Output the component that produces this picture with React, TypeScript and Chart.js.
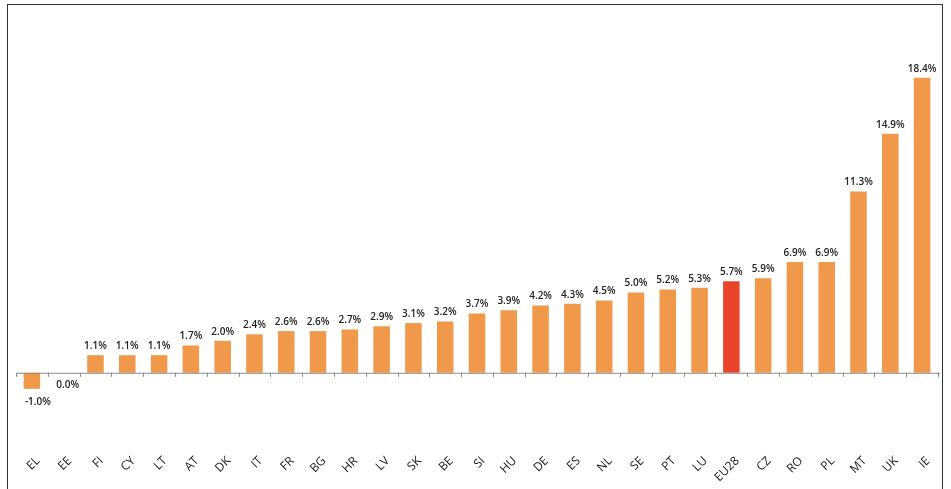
import { useEffect, useRef } from "react"
import Chart from "chart.js/auto"

// ── Data ────────────────────────────────────────────
const COUNTRIES = ["EL","EE","FI","CY","LT","AT","DK","IT","FR","BG","HR","LV","SK","BE","SI","HU","DE","ES","NL","SE","PT","LU","EU28","CZ","RO","PL","MT","UK","IE"]
const VALUES = [-1.0,0.0,1.1,1.1,1.1,1.7,2.0,2.4,2.6,2.6,2.7,2.9,3.1,3.2,3.7,3.9,4.2,4.3,4.5,5.0,5.2,5.3,5.7,5.9,6.9,6.9,11.3,14.9,18.4]

const ORANGE = "#f0994a"
const RED    = "#e8442b"
const FONT   = "'Open Sans', sans-serif"

const labelsPlugin = {
  id: "labels",
  afterDatasetsDraw(chart: any) {
    const { ctx, scales: { x, y }, chartArea } = chart
    const zero = y.getPixelForValue(0)
    ctx.save()
    // baseline with ticks between categories
    ctx.strokeStyle = "#8a8a8a"
    ctx.lineWidth = 1
    ctx.beginPath()
    ctx.moveTo(chartArea.left + 1, zero + 0.5)
    ctx.lineTo(chartArea.right + 2, zero + 0.5)
    const step = x.getPixelForValue(1) - x.getPixelForValue(0)
    for (let i = 0; i <= COUNTRIES.length; i++) {
      const px = Math.round(x.getPixelForValue(i) - step / 2) + 0.5
      ctx.moveTo(px, zero)
      ctx.lineTo(px, zero + 4)
    }
    ctx.stroke()

    ctx.fillStyle = "#222"
    ctx.font = `600 10px ${FONT}`
    ctx.textAlign = "center"
    VALUES.forEach((v, i) => {
      const px = x.getPixelForValue(i)
      const txt = v.toFixed(1) + "%"
      if (v < 0) {
        ctx.textBaseline = "top"
        ctx.fillText(txt, px + 6, y.getPixelForValue(v) + 8)
      } else if (v === 0) {
        ctx.textBaseline = "top"
        ctx.fillText(txt, px + 4, zero + 7)
      } else {
        ctx.textBaseline = "bottom"
        ctx.fillText(txt, px, y.getPixelForValue(v) - 4)
      }
    })

    ctx.font = `12px ${FONT}`
    ctx.textAlign = "right"
    ctx.textBaseline = "middle"
    COUNTRIES.forEach((c, i) => {
      const px = x.getPixelForValue(i)
      ctx.save()
      ctx.translate(px + 6, 459)
      ctx.rotate(-Math.PI / 4)
      ctx.fillText(c, 0, 0)
      ctx.restore()
    })
    ctx.restore()
  },
}

export default function App() {
  const ref = useRef<HTMLCanvasElement>(null)
  useEffect(() => {
    if (!ref.current) return
    const chart = new Chart(ref.current, {
      type: "bar",
      data: {
        labels: COUNTRIES,
        datasets: [{
          data: VALUES,
          backgroundColor: COUNTRIES.map(c => c === "EU28" ? RED : ORANGE),
          barPercentage: 0.52,
          categoryPercentage: 1,
        }],
      },
      options: {
        responsive: false,
        animation: false,
        layout: { padding: { left: 16, right: 13, top: 52, bottom: 28 } },
        plugins: { legend: { display: false }, tooltip: { enabled: false } },
        scales: {
          x: { display: false, offset: true },
          y: { display: false, min: -5.5, max: 20 },
        },
      },
      plugins: [labelsPlugin],
    })
    return () => chart.destroy()
  }, [])

  return (
    <div style={{ position: "fixed", left: 0, top: 0, width: 951, height: 489, background: "#fff" }}>
      <div style={{ position: "absolute", left: 7, top: 4, width: 936, height: 500, border: "1px solid #333", boxSizing: "border-box" }} />
      <canvas ref={ref} width={951} height={489} style={{ position: "absolute", left: 0, top: 0 }} />
    </div>
  )
}
